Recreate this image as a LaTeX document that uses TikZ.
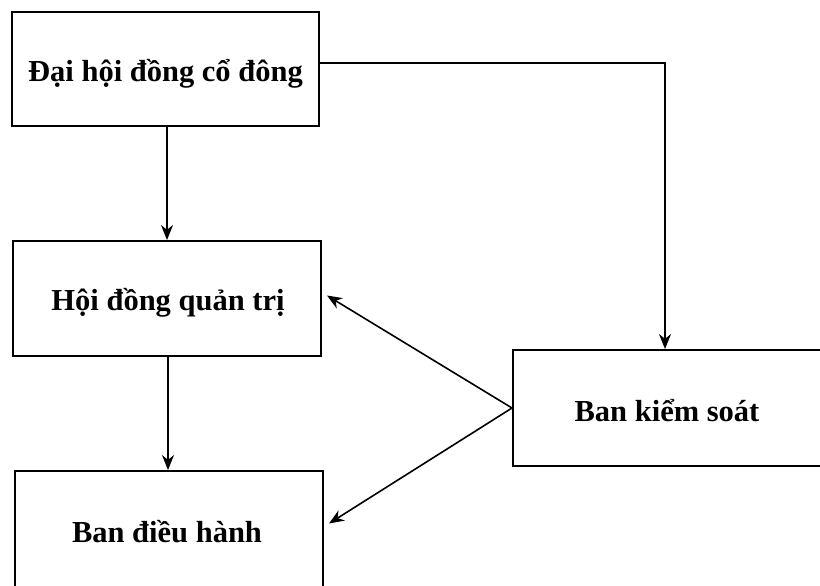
\documentclass[tikz,border=0pt]{standalone}
\usepackage{fontspec}
\setmainfont{Liberation Serif}
\usetikzlibrary{arrows.meta}
\begin{document}
\begin{tikzpicture}[x=1pt,y=-1pt,
  txt/.style={font=\fontsize{30.5}{34}\selectfont\bfseries},
  box/.style={draw=black, line width=2pt, rectangle, inner sep=0pt},
  conn/.style={draw=black, line width=1.6pt, -{Stealth[length=15pt,width=12pt]}}]
\useasboundingbox (0,0) rectangle (820,586);
\fill[white] (0,0) rectangle (820,586);
\node[box, minimum width=307pt, minimum height=114pt] (b1) at (165.5,69) {};
\node[txt] (t1) at (165.5,74) {Đại hội đồng cổ đông};
\node[box, minimum width=308pt, minimum height=115pt] (b2) at (167,298.5) {};
\node[txt] (t2) at (168,303) {Hội đồng quản trị};
\node[box, minimum width=308pt, minimum height=117pt] (b3) at (169,529.5) {};
\node[txt] (t3) at (167,532) {Ban điều hành};
\node[box, minimum width=309pt, minimum height=116pt] (b4) at (667.5,408) {};
\node[txt] (t4) at (667,411) {Ban kiểm soát};
\coordinate (c1) at (665,63);
\draw[conn] (b1.south -| 167,0) -- (b2.north -| 167,0);
\draw[conn] (b2.south -| 168,0) -- (b3.north -| 168,0);
\draw[conn] ([yshift=6pt]b1.east) -- (c1) -- (b4.north -| c1);
\draw[conn] (b4.west) -- ([xshift=5pt,yshift=3pt]b2.east);
\draw[conn] (b4.west) -- ([xshift=5pt,yshift=6pt]b3.east);
\end{tikzpicture}
\end{document}
